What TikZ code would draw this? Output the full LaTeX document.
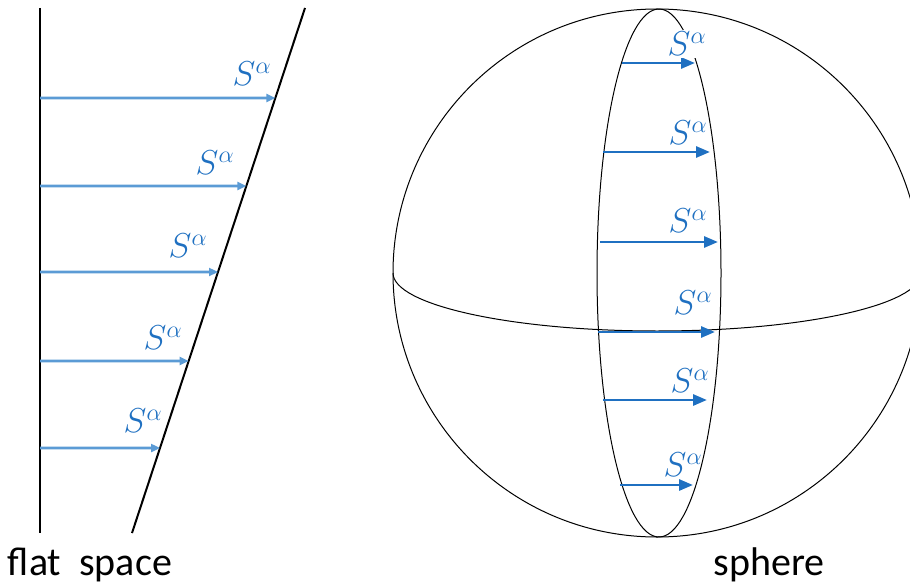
\documentclass[tikz,border=0pt]{standalone}
\usepackage{fontspec}
\setsansfont{Carlito}
\usetikzlibrary{arrows.meta,positioning,calc}
\definecolor{lblue}{HTML}{5B9BD5}
\definecolor{dblue}{HTML}{1F70C1}
\begin{document}
\begin{tikzpicture}[x=0.5pt,y=-0.5pt,
  vec/.style={lblue,line width=1.3pt,-{Triangle[length=4.5pt,width=4pt]}},
  svec/.style={dblue,line width=1.4pt,-{Triangle[length=7pt,width=5.5pt]}},
  lab/.style={text=dblue,font=\fontsize{18}{21}\selectfont,inner sep=0pt,anchor=south east},
  title/.style={font=\sffamily\fontsize{20}{24}\selectfont,inner sep=0pt,anchor=base}]
  \useasboundingbox (0,0) rectangle (910,583);
  \clip (0,0) rectangle (910,583);
  % flat space
  \coordinate (w0) at (40,8); \coordinate (w1) at (40,533);
  \coordinate (e0) at (305,8); \coordinate (e1) at (132,533);
  \draw[line width=1pt] (w0)--(w1);
  \draw[line width=1pt] (e0)--(e1);
  \foreach \i/\y/\lx/\ly in {1/98/272/86,2/186/235/175,3/272/208/258,4/361/183/350,5/448/163/433}{
    \coordinate (f\i) at (40,\y);
    \coordinate (g\i) at ($(e0)!{(\y-8)/525}!(e1)$);
    \draw[vec] (f\i)--(g\i);
    \node[lab] (fl\i) at (\lx,\ly) {$S^\alpha$};
  }
  \node[title] (flat) at (90,575) {flat\ \ space};
  % sphere
  \coordinate (O) at (657,273);
  \coordinate (M) at (659,273);
  \draw[line width=0.5pt] (O) circle[radius=264];
  \draw[line width=0.5pt] ($(O)+(-264,0)$) arc[start angle=180,end angle=0,x radius=264,y radius=58];
  \draw[line width=0.5pt] (M) ellipse[x radius=62,y radius=264];
  \foreach \i/\y/\xa/\xb in {1/63/622/695,2/152/603/710,3/242/600/718,
      4/332/598/715,5/400/603/707,6/485/620/693}{
    \coordinate (s\i) at (\xa,\y);
    \coordinate (t\i) at (\xb,\y);
    \draw[svec] (s\i)--(t\i);
  }
  \node[lab,fill=white,inner sep=1pt] (sl1) at (709,58) {$S^\alpha$};
  \foreach \i/\lx/\ly in {2/708/145,3/708/233,4/713/315,5/710/393,6/703/477}
    \node[lab] (sl\i) at (\lx,\ly) {$S^\alpha$};
  \node[title] (sph) at (769,575) {sphere};
\end{tikzpicture}
\end{document}
